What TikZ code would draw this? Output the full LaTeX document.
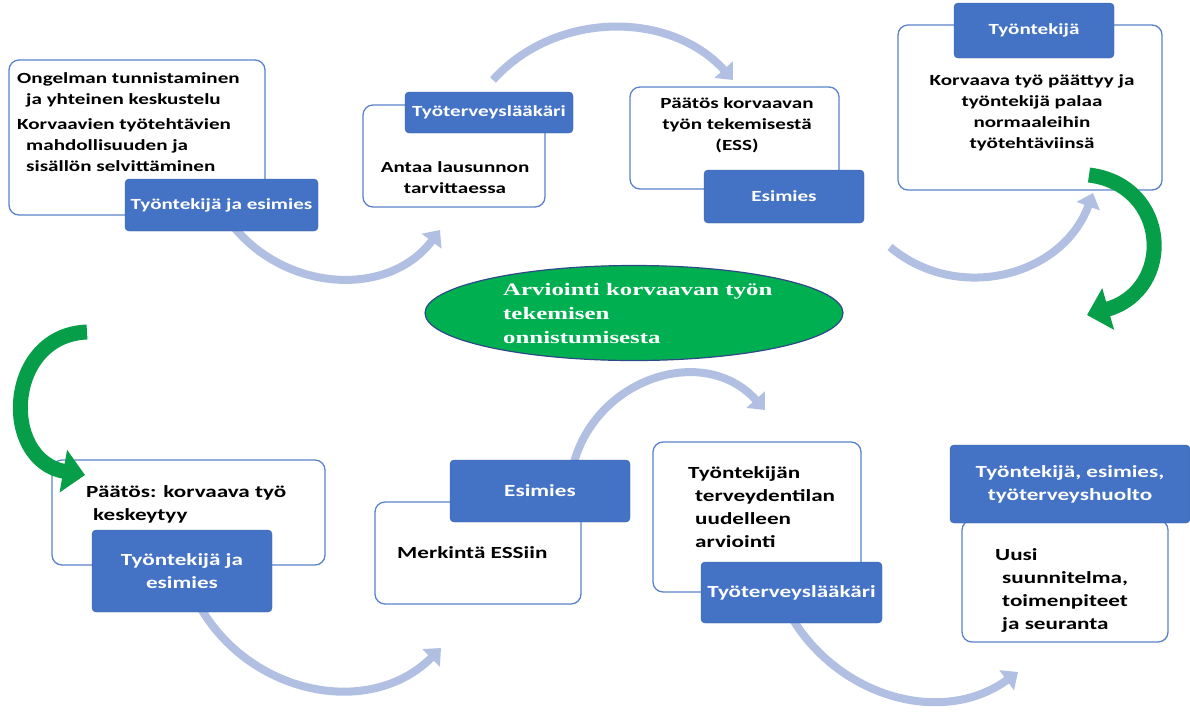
\documentclass[tikz,border=0pt]{standalone}
\usepackage{fontspec}
\setmainfont[FakeStretch=1.36]{Carlito}
\newfontfamily\ovalfont[FakeStretch=1.42]{Liberation Serif}
\usepackage{tikz}
\usetikzlibrary{arrows.meta,shapes.geometric}
\definecolor{labelblue}{HTML}{4472C4}
\definecolor{edgeblue}{HTML}{5A82CC}
\definecolor{flowblue}{HTML}{B0BFE2}
\definecolor{ovalgreen}{HTML}{00B050}
\definecolor{ovaledge}{HTML}{2E4A86}
\definecolor{turngreen}{HTML}{069E48}
\newcommand{\topstrut}{\rule{0pt}{0.95em}}

\begin{document}
\begin{tikzpicture}[line cap=round,line join=round,x=1pt,y=1pt,
  card/.style={draw=edgeblue,line width=1.3pt,fill=white,rounded corners=10pt,anchor=north west,inner sep=0pt,outer sep=0pt},
  tag/.style={fill=labelblue,draw=labelblue!85!black,line width=0.4pt,rounded corners=4pt,anchor=north west,text=white,align=center,inner sep=0pt,outer sep=0pt},
  upper/.style={font=\fontsize{15.5}{21}\selectfont\bfseries},
  lower/.style={font=\fontsize{17}{23}\selectfont\bfseries},
  note/.style={inner sep=0pt,anchor=north west,align=left},
  flow/.style={draw=flowblue,line width=8pt,line cap=butt,-{Triangle[length=14pt,width=24pt]}},
  turn/.style={draw=turngreen,line width=15pt,line cap=butt,-{Triangle[length=22pt,width=42pt]}}
]
\useasboundingbox (0,0) rectangle (1190,-713);
\fill[white] (0,0) rectangle (1190,-713);

% light blue arcs between the steps
\coordinate (f1s) at (233,-226);
\coordinate (f1e) at (440,-230);
\coordinate (f2s) at (493,-80);
\coordinate (f2e) at (733,-80);
\coordinate (f3s) at (890,-247);
\coordinate (f3e) at (1093,-193);
\coordinate (f4s) at (199,-605);
\coordinate (f4e) at (441,-648);
\coordinate (f5s) at (573,-466);
\coordinate (f5e) at (765,-410);
\coordinate (f6s) at (792,-618);
\coordinate (f6e) at (1018,-672);
\draw[flow] (f1s) to[out=-51,in=233,looseness=1.05] (f1e);
\draw[flow] (f2s) to[out=48,in=132,looseness=1] (f2e);
\draw[flow] (f3s) to[out=-40,in=250,looseness=1.08] (f3e);
\draw[flow] (f4s) to[out=-61,in=225,looseness=1.06] (f4e);
\draw[flow] (f5s) to[out=76,in=132,looseness=1.16] (f5e);
\draw[flow] (f6s) to[out=-59,in=216,looseness=1.02] (f6e);

% upper row
\node[card,minimum width=256pt,minimum height=155pt] (b1) at (9,-60) {};
\node[note,upper] (t1) at (17,-68.3) {\topstrut Ongelman tunnistaminen\\ \hspace*{9pt}ja yhteinen keskustelu\\[4pt] Korvaavien työtehtävien\\ \hspace*{9pt}mahdollisuuden ja\\ \hspace*{9pt}sisällön selvittäminen};
\node[tag,upper,minimum width=193pt,minimum height=52pt] (l1) at (125,-179) {Työntekijä ja esimies};

\node[card,minimum width=182pt,minimum height=102pt] (b2) at (363,-105) {};
\node[note,upper,anchor=north,align=center] (t2) at (455,-157.3) {\topstrut Antaa lausunnon\\tarvittaessa};
\node[tag,upper,minimum width=168pt,minimum height=41pt] (l2) at (405,-92) {Työterveyslääkäri};

\node[card,minimum width=209pt,minimum height=102pt] (b3) at (630,-87) {};
\node[note,upper,anchor=north,align=center] (t3) at (737,-93.3) {\topstrut Päätös korvaavan\\työn tekemisestä\\(ESS)};
\node[tag,upper,minimum width=160pt,minimum height=53pt] (l3) at (704,-170) {Esimies};

\node[card,minimum width=264pt,minimum height=165pt] (b4) at (898,-25) {};
\node[note,upper,anchor=north,align=center] (t4) at (1032,-70.3) {\topstrut Korvaava työ päättyy ja\\työntekijä palaa\\normaaleihin\\työtehtäviinsä};
\node[tag,upper,minimum width=160pt,minimum height=55pt] (l4) at (954,-3) {Työntekijä};

% lower row
\node[card,minimum width=273pt,minimum height=105pt] (b5) at (52,-460) {};
\node[note,lower] (t5) at (86,-481) {\topstrut Päätös: korvaava työ\\ \hspace*{7pt}keskeytyy};
\node[tag,lower,minimum width=180pt,minimum height=82pt] (l5) at (92,-530) {Työntekijä ja\\esimies};

\node[card,minimum width=206pt,minimum height=102pt] (b6) at (375,-502) {};
\node[note,lower] (t6) at (397,-542) {\topstrut Merkintä ESSiin};
\node[tag,lower,minimum width=180pt,minimum height=62pt] (l6) at (450,-460) {Esimies};

\node[card,minimum width=208pt,minimum height=150pt] (b7) at (653,-442) {};
\node[note,lower] (t7) at (688,-462) {\topstrut Työntekijän\\ \hspace*{7pt}terveydentilan\\ \hspace*{7pt}uudelleen\\ \hspace*{7pt}arviointi};
\node[tag,lower,minimum width=181pt,minimum height=61pt] (l7) at (701,-562) {Työterveyslääkäri};

\node[card,minimum width=206pt,minimum height=122pt] (b8) at (962,-520) {};
\node[note,lower] (t8) at (995,-544) {\topstrut Uusi\\ \hspace*{7pt}suunnitelma,\\ \hspace*{7pt}toimenpiteet\\ \hspace*{7pt}ja seuranta};
\node[tag,lower,minimum width=240pt,minimum height=78pt] (l8) at (950,-445) {Työntekijä, esimies,\\työterveyshuolto};

% centre
\node[ellipse,fill=ovalgreen,draw=ovaledge,line width=1.2pt,minimum width=418pt,minimum height=95pt,inner sep=0pt] (ev) at (634,-313) {};
\node[note,text=white,font={\ovalfont\fontsize{17.5}{24}\selectfont\bfseries}] (et) at (503,-279) {\topstrut Arviointi korvaavan työn\\tekemisen\\onnistumisesta};

% green turning arrows
\coordinate (g1s) at (1089,-175);
\coordinate (g1e) at (1087,-315);
\coordinate (g2s) at (87,-332);
\coordinate (g2e) at (85,-475);
\draw[turn] (g1s) .. controls (1170,-185) and (1175,-290) .. (g1e);
\draw[turn] (g2s) .. controls (5,-335) and (0,-460) .. (g2e);
\end{tikzpicture}
\end{document}
